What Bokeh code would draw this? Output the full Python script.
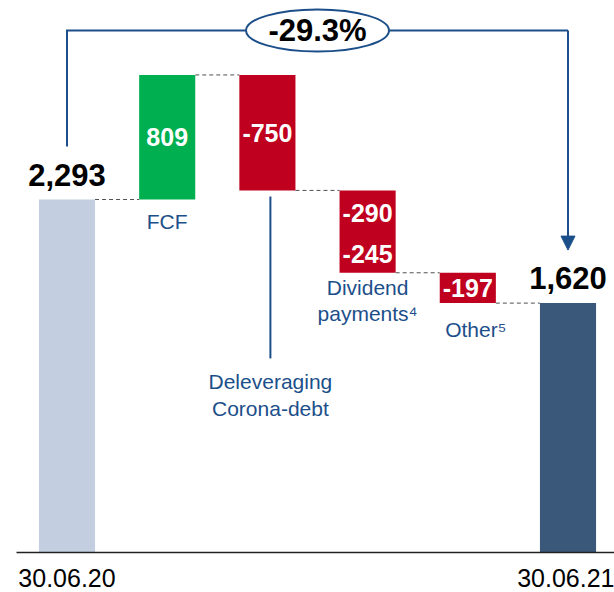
from bokeh.plotting import figure
from bokeh.models import Range1d, FixedTicker, Arrow, NormalHead, ColumnDataSource
from bokeh.embed import file_html
from bokeh.resources import INLINE
from bokeh.core.properties import value

# ---------------- data ----------------
start_label = "30.06.20"
end_label = "30.06.21"
start_value = 2293
end_value = 1620
step_names = ["FCF", "Deleveraging\nCorona-debt", "Dividend\npayments⁴", "Other⁵"]
step_parts = [[809], [-750], [-290, -245], [-197]]
change_label = "-29.3%"

# ---------------- style ----------------
C_START = "#C3CFE1"
C_END = "#3A5879"
C_POS = "#00AF50"
C_NEG = "#C0001F"
C_BLUE = "#1C4F8A"
FONT = value("Liberation Sans")

W, H = 614, 592
BORDER_L, BORDER_B = 16, 40
FW, FH = W - BORDER_L, H - BORDER_B     # frame size in px
Y_PX_PER_UNIT = 0.15395
Y_MAX = FH / Y_PX_PER_UNIT
PX = 1 / Y_PX_PER_UNIT     # data units per pixel (y)
XU = 100.2                 # px per category step
X0 = -0.504
BAR_W = 0.56

p = figure(width=W, height=H, x_range=Range1d(X0, X0 + FW / XU), y_range=Range1d(0, Y_MAX),
           output_backend="svg", toolbar_location=None, y_axis_location=None,
           min_border_left=BORDER_L, min_border_right=0, min_border_top=0,
           min_border_bottom=BORDER_B,
           outline_line_color=None, background_fill_color="white")
p.xgrid.visible = False
p.ygrid.visible = False

n_steps = len(step_names)
end_x = n_steps + 1

# ---------------- waterfall segments ----------------
running = start_value
seg = dict(x=[], top=[], bottom=[], color=[], label=[], ymid=[])
levels = [start_value]
step_bottoms = []
for i, parts in enumerate(step_parts, start=1):
    lows = []
    for v in parts:
        new = running + v
        seg["x"].append(i)
        seg["top"].append(max(running, new))
        seg["bottom"].append(min(running, new))
        seg["color"].append(C_POS if v > 0 else C_NEG)
        seg["label"].append(f"{v}")
        seg["ymid"].append((running + new) / 2)
        lows.append(min(running, new))
        running = new
    levels.append(running)
    step_bottoms.append(min(lows))

# totals
p.vbar(x=[0, end_x], top=[start_value, end_value], bottom=0, width=BAR_W,
       fill_color=[C_START, C_END], line_color=None)
src = ColumnDataSource(seg)
p.vbar(x="x", top="top", bottom="bottom", width=BAR_W, fill_color="color",
       line_color=None, source=src)
p.text(x="x", y="ymid", text="label", source=src, text_color="white",
       text_font=FONT, text_font_size="25px", text_font_style="bold",
       text_align="center", text_baseline="middle")

# connectors
cx0 = [i + BAR_W / 2 for i in range(len(levels))]
cx1 = [i + 1 - BAR_W / 2 for i in range(len(levels))]
p.segment(x0=cx0, y0=levels, x1=cx1, y1=levels, line_color="#505050",
          line_width=1, line_dash="4 3")

# total labels
p.text(x=[0, end_x], y=[start_value + 24 * PX, end_value + 25 * PX],
       text=[f"{start_value:,}", f"{end_value:,}"], text_color="black",
       text_font=FONT, text_font_size="31px", text_font_style="bold",
       text_align="center", text_baseline="middle")

# category labels
gap_px = [11, 180, 3, 15]
dx_px = [0, 3, 0, 8]
lx = [i + 1 + dx_px[i] / XU for i in range(n_steps)]
ly = [step_bottoms[i] - gap_px[i] * PX for i in range(n_steps)]
p.text(x=lx, y=ly, text=step_names, text_color=C_BLUE, text_font=FONT,
       text_font_size="21px", text_align="center", text_baseline="top",
       text_line_height=1.15)

# leader line for Deleveraging
p.segment(x0=[lx[1]], y0=[step_bottoms[1] - 6 * PX], x1=[lx[1]],
          y1=[step_bottoms[1] - 168 * PX], line_color=C_BLUE, line_width=2)

# bracket with change
bracket_y = Y_MAX - 30 * PX
p.line(x=[0, 0, end_x], y=[start_value + 53 * PX, bracket_y, bracket_y],
       line_color=C_BLUE, line_width=2, line_join="miter")
p.add_layout(Arrow(end=NormalHead(size=14, fill_color=C_BLUE, line_color=C_BLUE),
                   x_start=end_x, y_start=bracket_y, x_end=end_x, y_end=end_value + 53 * PX,
                   line_color=C_BLUE, line_width=2))
p.ellipse(x=[end_x / 2], y=[bracket_y], width=143, height=42, width_units="screen",
          height_units="screen", fill_color="white", line_color=C_BLUE, line_width=2)
p.text(x=[end_x / 2], y=[bracket_y], text=[change_label], text_color="black",
       text_font=FONT, text_font_size="31px", text_font_style="bold",
       text_align="center", text_baseline="middle")

# axis
p.xaxis.ticker = FixedTicker(ticks=[0, end_x])
p.xaxis.major_label_overrides = {0: start_label, end_x: end_label}
p.xaxis.major_label_text_font = "Liberation Sans"
p.xaxis.major_label_text_font_size = "25px"
p.xaxis.major_label_text_color = "black"
p.xaxis.major_label_standoff = 10
p.xaxis.axis_line_color = "#222222"
p.xaxis.axis_line_width = 1.5
p.xaxis.major_tick_line_color = None
p.xaxis.minor_tick_line_color = None

open("out.html", "w").write(file_html(p, INLINE))
